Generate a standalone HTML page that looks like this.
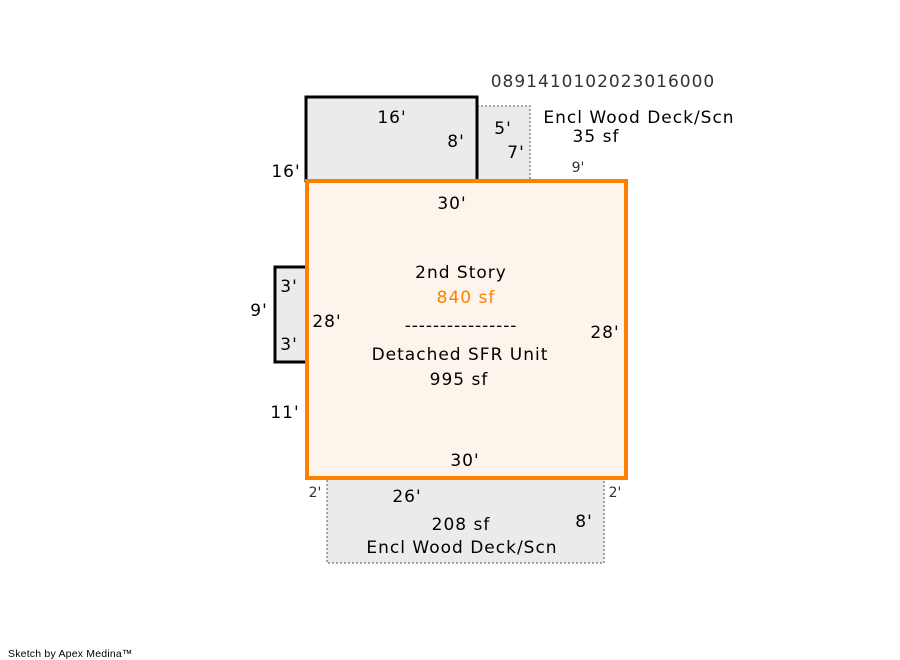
<!DOCTYPE html>
<html><head><meta charset="utf-8"><style>
html,body{margin:0;padding:0;background:#fff;}
svg{display:block}
text{font-family:"DejaVu Sans","Liberation Sans",sans-serif;font-size:17px;fill:#000;letter-spacing:1px}
.s{font-size:14px;fill:#333;letter-spacing:0}
</style></head><body>
<svg width="900" height="660" viewBox="0 0 900 660">
<rect x="477" y="106" width="53" height="75" fill="#ebebeb" stroke="#888" stroke-width="1.5" stroke-dasharray="2,2"/>
<rect x="327" y="478" width="277" height="85" fill="#ebebeb" stroke="#888" stroke-width="1.5" stroke-dasharray="2,2"/>
<rect x="306" y="97" width="171" height="84" fill="#ebebeb" stroke="#000" stroke-width="3"/>
<rect x="275" y="267" width="32" height="95" fill="#ebebeb" stroke="#000" stroke-width="3"/>
<rect x="307" y="181" width="319" height="297" fill="#fdf4ec" stroke="#ff8000" stroke-width="4"/>
<text x="603" y="87" text-anchor="middle" fill="#333" style="fill:#333">0891410102023016000</text>
<text x="639" y="123" text-anchor="middle">Encl Wood Deck/Scn</text>
<text x="596" y="142" text-anchor="middle">35 sf</text>
<text class="s" x="578" y="172" text-anchor="middle">9'</text>
<text x="392" y="123" text-anchor="middle">16'</text>
<text x="456" y="147" text-anchor="middle">8'</text>
<text x="503" y="134" text-anchor="middle">5'</text>
<text x="516" y="158" text-anchor="middle">7'</text>
<text x="286" y="177" text-anchor="middle">16'</text>
<text x="452" y="209" text-anchor="middle">30'</text>
<text x="289" y="292" text-anchor="middle">3'</text>
<text x="289" y="350" text-anchor="middle">3'</text>
<text x="259" y="316" text-anchor="middle">9'</text>
<text x="327" y="327" text-anchor="middle">28'</text>
<text x="605" y="338" text-anchor="middle">28'</text>
<text x="285" y="418" text-anchor="middle">11'</text>
<text x="461" y="278" text-anchor="middle">2nd Story</text>
<text x="466" y="303" text-anchor="middle" style="fill:#ff8000">840 sf</text>
<text x="461" y="331" text-anchor="middle" style="letter-spacing:0.9px">----------------</text>
<text x="460" y="360" text-anchor="middle">Detached SFR Unit</text>
<text x="459" y="385" text-anchor="middle">995 sf</text>
<text x="465" y="466" text-anchor="middle">30'</text>
<text class="s" x="315" y="497" text-anchor="middle">2'</text>
<text class="s" x="615" y="497" text-anchor="middle">2'</text>
<text x="407" y="502" text-anchor="middle">26'</text>
<text x="461" y="530" text-anchor="middle">208 sf</text>
<text x="584" y="527" text-anchor="middle">8'</text>
<text x="462" y="553" text-anchor="middle">Encl Wood Deck/Scn</text>
<text x="8" y="657" style="font-family:'Liberation Sans',sans-serif;font-size:10.5px;letter-spacing:0.2px">Sketch by Apex Medina™</text>
</svg>
</body></html>
